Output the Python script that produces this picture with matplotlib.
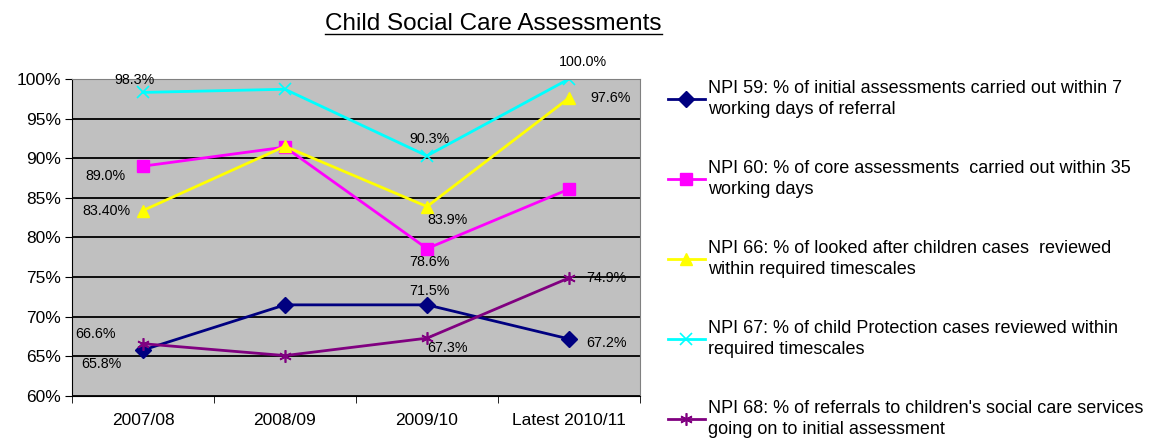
import matplotlib.pyplot as plt

plt.rcParams['font.family'] = ['Liberation Sans', 'DejaVu Sans']

categories = ['2007/08', '2008/09', '2009/10', 'Latest 2010/11']
npi59 = [65.8, 71.5, 71.5, 67.2]
npi60 = [89.0, 91.4, 78.6, 86.1]
npi66 = [83.4, 91.5, 83.9, 97.6]
npi67 = [98.3, 98.7, 90.3, 100.0]
npi68 = [66.6, 65.1, 67.3, 74.9]

labels = ['NPI 59: % of initial assessments carried out within 7\nworking days of referral',
          'NPI 60: % of core assessments  carried out within 35\nworking days',
          'NPI 66: % of looked after children cases  reviewed\nwithin required timescales',
          'NPI 67: % of child Protection cases reviewed within\nrequired timescales',
          "NPI 68: % of referrals to children's social care services\ngoing on to initial assessment"]

# (series, index, text, dx, dy) offsets in points
point_labels = [
    (npi67, 0, '98.3%', -6, 9), (npi60, 0, '89.0%', -27, -7), (npi66, 0, '83.40%', -26, 0),
    (npi68, 0, '66.6%', -34, 7), (npi59, 0, '65.8%', -30, -10),
    (npi67, 3, '100.0%', 10, 12), (npi66, 3, '97.6%', 30, 0),
    (npi67, 2, '90.3%', 2, 12), (npi66, 2, '83.9%', 15, -10), (npi60, 2, '78.6%', 2, -10),
    (npi59, 2, '71.5%', 2, 10), (npi68, 2, '67.3%', 15, -7),
    (npi68, 3, '74.9%', 27, 0), (npi59, 3, '67.2%', 27, -3),
]

fig = plt.figure(figsize=(11.59, 4.41), dpi=100)
ax = fig.add_axes([0.0621, 0.102, 0.4901, 0.719])
ax.set_facecolor('#C0C0C0')

x = range(len(categories))
ax.plot(x, npi59, color='#000080', marker='D', ms=8, lw=2, label=labels[0])
ax.plot(x, npi60, color='#FF00FF', marker='s', ms=8, lw=2, label=labels[1])
ax.plot(x, npi66, color='#FFFF00', marker='^', ms=9, lw=2, label=labels[2])
ax.plot(x, npi67, color='#00FFFF', marker='x', ms=9, mew=1.2, lw=2, label=labels[3])
ax.plot(x, npi68, color='#800080', marker=(6, 2, 0), ms=9, mew=1.2, lw=2, label=labels[4])

for s, i, t, dx, dy in point_labels:
    ax.annotate(t, (i, s[i]), xytext=(dx, dy), textcoords='offset points',
                ha='center', va='center', fontsize=10.3)

ax.set_xlim(-0.5, 3.5)
ax.set_ylim(60, 100)
ax.set_yticks(range(60, 101, 5))
ax.set_yticklabels([f'{v}%' for v in range(60, 101, 5)], fontsize=12.5)
ax.set_xticks(list(x))
ax.set_xticklabels(categories, fontsize=12.5)
ax.set_xticks([-0.5, 0.5, 1.5, 2.5, 3.5], minor=True)
ax.tick_params(axis='x', which='major', length=0, pad=12)
ax.tick_params(axis='x', which='minor', length=5, color='black')
ax.tick_params(axis='y', length=5, color='black', pad=3)
ax.grid(axis='y', color='black', lw=1.3)
ax.set_axisbelow(True)
for side in ['top', 'right']:
    ax.spines[side].set_color('#808080')
for side in ['left', 'bottom']:
    ax.spines[side].set_color('black')

title = fig.text(0.426, 0.946, 'Child Social Care Assessments', ha='center', va='center',
                 fontsize=17.5)
# underline the title
fig.canvas.draw()
bb = title.get_window_extent()
inv = fig.transFigure.inverted()
(x0, y0), (x1, y1) = inv.transform([(bb.x0, bb.y0), (bb.x1, bb.y1)])
fig.add_artist(plt.Line2D([x0, x1], [y0 + 0.002, y0 + 0.002], color='black', lw=1,
                          transform=fig.transFigure))

leg = fig.legend(loc='upper left', bbox_to_anchor=(0.570, 0.836), frameon=False, fontsize=13,
                 labelspacing=2.3, handlelength=2.05, handletextpad=0.15, borderaxespad=0)
for t in leg.get_texts():
    t.set_linespacing(1.35)

fig.savefig('out.png', dpi=100)
